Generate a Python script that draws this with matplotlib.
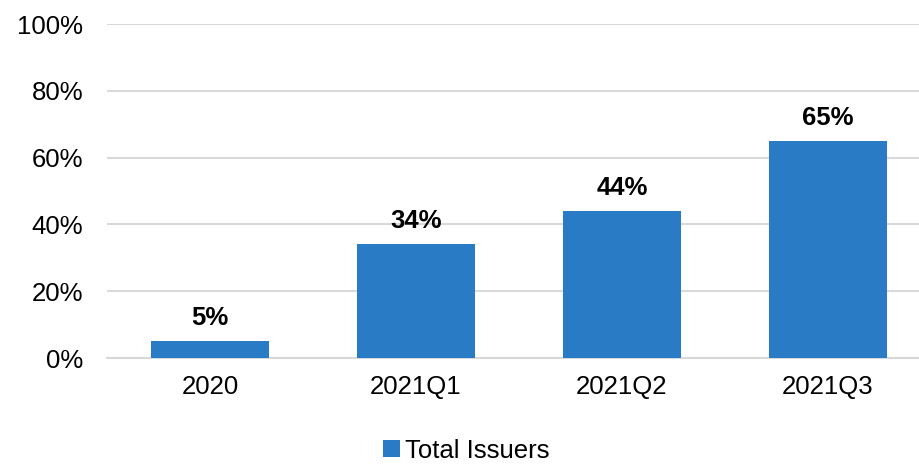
import numpy as np
import matplotlib.pyplot as plt
from matplotlib.ticker import PercentFormatter

categories = ['2020', '2021Q1', '2021Q2', '2021Q3']
total_issuers = [5, 34, 44, 65]

plt.rcParams['font.family'] = ['Liberation Sans', 'DejaVu Sans']

fig = plt.figure(figsize=(9.2, 4.67), dpi=100)
ax = fig.add_axes([107 / 920, 1 - 358 / 467, 824 / 920, 334 / 467])

x = np.arange(len(categories))
bars = ax.bar(x, total_issuers, width=0.573, color='#287BC4', label='Total Issuers', zorder=3)
for b, v in zip(bars, total_issuers):
    ax.annotate('%d%%' % v, (b.get_x() + b.get_width() / 2, v), xytext=(0, 8),
                textcoords='offset points', ha='center', va='bottom',
                fontsize=18.5, fontweight='bold')

ax.set_xlim(-0.5, 3.5)
ax.set_ylim(0, 100)
ax.set_yticks(range(0, 101, 20))
ax.yaxis.set_major_formatter(PercentFormatter(decimals=0))
ax.set_xticks(x)
ax.set_xticklabels(categories)
ax.tick_params(axis='both', length=0, labelsize=18.5)
ax.tick_params(axis='x', pad=12)
ax.tick_params(axis='y', pad=17)
ax.grid(axis='y', color='#D9D9D9', linewidth=1.5, zorder=0)
for s in ['top', 'right', 'left']:
    ax.spines[s].set_visible(False)
ax.spines['bottom'].set_color('#D9D9D9')
ax.spines['bottom'].set_linewidth(1.5)

fig.legend(loc='lower center', bbox_to_anchor=(0.507, -0.04), frameon=False, fontsize=18.5,
           handlelength=0.65, handleheight=0.65, handletextpad=0.2)

fig.savefig('out.png', dpi=100)
